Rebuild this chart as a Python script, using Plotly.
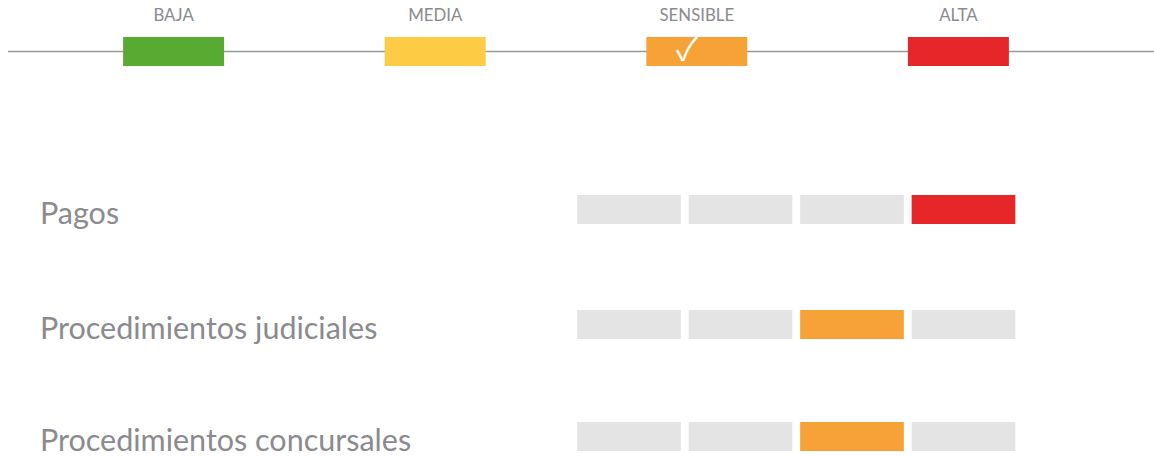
import plotly.graph_objects as go

# ---- data ----
levels = ["BAJA", "MEDIA", "SENSIBLE", "ALTA"]
level_colors = ["#57AB33", "#FECB44", "#F6A237", "#E62629"]
overall_level = "SENSIBLE"
categories = ["Pagos", "Procedimientos judiciales", "Procedimientos concursales"]
category_levels = ["ALTA", "SENSIBLE", "SENSIBLE"]

# ---- style / layout ----
W, H = 1154, 457
GRAY = "#E4E4E4"
TEXT = "#8a8a8f"
FONT = "Lato, 'Source Sans Pro', 'Open Sans', sans-serif"

def xd(px):
    return px / W

def ydom(top_px, bot_px):
    return [1 - bot_px / H, 1 - top_px / H]

fig = go.Figure()

# legend row
fig.add_trace(go.Bar(x=levels, y=[1] * len(levels), marker=dict(color=level_colors, line=dict(width=0)),
                     width=0.386, xaxis="x", yaxis="y", hoverinfo="skip"))
fig.add_annotation(x=overall_level, y=0.5, xref="x", yref="y", text="✓", showarrow=False,
                   xshift=-10, yshift=5, xanchor="center", yanchor="middle",
                   font=dict(color="white", size=32, family="'Noto Sans CJK JP', 'DejaVu Sans'"))

row_doms = [ydom(195, 224), ydom(310, 339), ydom(422, 451)]
for i, (cat, lev) in enumerate(zip(categories, category_levels)):
    cols = [level_colors[j] if levels[j] == lev else GRAY for j in range(len(levels))]
    ya = "y%d" % (i + 2)
    fig.add_trace(go.Bar(x=levels, y=[1] * len(levels), marker=dict(color=cols, line=dict(width=0)),
                         width=0.93, xaxis="x2", yaxis=ya, hoverinfo="skip"))
    fig.add_annotation(text=cat, xref="paper", x=xd(38), xanchor="left",
                       yref=ya + " domain", y=0.4, yanchor="middle", showarrow=False,
                       font=dict(size=30.5, color=TEXT, family=FONT))

fig.add_shape(type="line", xref="paper", x0=xd(8), x1=1, yref="y domain", y0=0.5, y1=0.5,
              line=dict(color="#999999", width=1.5), layer="below")

layout = dict(
    width=W, height=H, margin=dict(l=0, r=0, t=0, b=0),
    paper_bgcolor="white", plot_bgcolor="white", showlegend=False, hovermode=False,
    font=dict(family=FONT, color=TEXT),
    xaxis=dict(domain=[xd(42.8), xd(1089.2)], anchor="y", type="category", categoryarray=levels,
               range=[-0.5, 3.5], side="top", showgrid=False, zeroline=False, showline=False,
               ticks="", ticklabelstandoff=12, tickfont=dict(size=16.8, color=TEXT, family=FONT),
               fixedrange=True, automargin=False),
    yaxis=dict(domain=ydom(37, 66), range=[0, 1], visible=False, fixedrange=True),
    xaxis2=dict(domain=[xd(573.25), xd(1019.25)], anchor="y2", type="category", categoryarray=levels,
                range=[-0.5, 3.5], visible=False, fixedrange=True),
)
for i, d in enumerate(row_doms):
    layout["yaxis%d" % (i + 2)] = dict(domain=d, range=[0, 1], visible=False, anchor="x2", fixedrange=True)
fig.update_layout(**layout)

fig.write_html("out.html", config={"displayModeBar": False},
               post_script="document.body.style.margin='0px';document.body.style.overflow='hidden';")
